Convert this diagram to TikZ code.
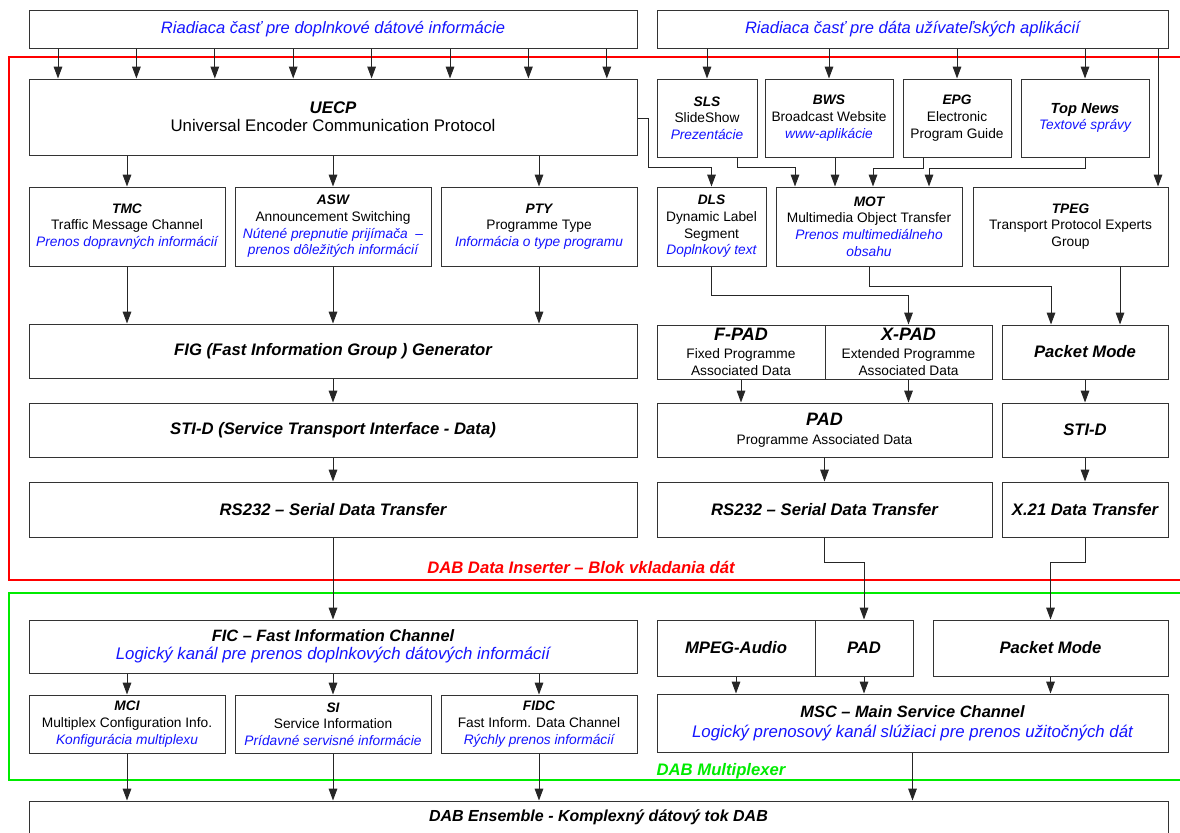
\documentclass[tikz,border=0pt]{standalone}
\usepackage{fontspec}
\setmainfont{Liberation Sans}
\usetikzlibrary{arrows.meta}

\definecolor{txtblue}{RGB}{20,20,255}
\definecolor{frred}{RGB}{255,0,0}
\definecolor{frgreen}{RGB}{0,235,0}

\newcommand\hd[1]{{\bfseries\itshape #1}}
\newcommand\bl[1]{{\itshape\color{txtblue}#1}}
% box from corner (x1,y1) to corner (x2,y2), in pixel units
\newcommand\mkbox[7][]{\node[blk,#1,minimum width={(#5-#3)*0.75pt},
  minimum height={(#6-#4)*0.75pt}] (#2) at ({(#3+#5)/2},{(#4+#6)/2}) {#7};}

\tikzset{
  blk/.style={draw=black!80, line width=0.75pt, fill=white, inner sep=0pt,
              align=center, font=\fontsize{10.3}{12.5}\selectfont},
  bigbold/.style={font=\fontsize{12.5}{14}\selectfont\bfseries\itshape},
  arr/.style={draw=black!85, line width=0.75pt, -{Triangle[length=9pt,width=6.5pt]}},
  frame/.style={line width=1pt},
}

\begin{document}
\begin{tikzpicture}[x=0.75pt,y=-0.75pt]
\useasboundingbox (0,0) rectangle (1180,832);

% frames of the two blocks
\draw[frred, frame]   (1195,57)  -- (9,57)  -- (9,580) -- (1195,580);
\draw[frgreen, frame] (1195,593) -- (9,593) -- (9,780) -- (1195,780);
\node[text=frred, bigbold]   (lblred)   at (581,567) {DAB Data Inserter – Blok vkladania dát};
\node[text=frgreen, bigbold] (lblgreen) at (721,771) {DAB Multiplexer};

% control parts
\mkbox[font=\fontsize{12.4}{14}\selectfont]{tl}{29}{10}{637}{48}{\bl{Riadiaca časť pre doplnkové dátové informácie}}
\mkbox[font=\fontsize{12.4}{14}\selectfont]{tr}{657}{10}{1168}{48}{\bl{Riadiaca časť pre dáta užívateľských aplikácií}}

% left branch
\mkbox[font=\fontsize{12.6}{13.5}\selectfont]{uecp}{29}{79}{637}{155}{\hd{UECP}\\Universal Encoder Communication Protocol}
\mkbox{tmc}{29}{187}{225}{266}{\hd{TMC}\\Traffic Message Channel\\\bl{Prenos dopravných informácií}}
\mkbox{asw}{235}{187}{431}{266}{\hd{ASW}\\Announcement Switching\\\bl{Nútené prepnutie prijímača~ –}\\\bl{prenos dôležitých informácií}}
\mkbox{pty}{441}{187}{637}{266}{\hd{PTY}\\Programme Type\\\bl{Informácia o type programu}}
\mkbox[bigbold]{fig}{29}{324}{637}{378}{FIG (Fast Information Group ) Generator}
\mkbox[bigbold]{stid}{29}{403}{637}{457}{STI-D (Service Transport Interface - Data)}
\mkbox[bigbold]{rsa}{29}{482}{637}{537}{RS232 – Serial Data Transfer}

% right branch
\mkbox{sls}{657}{79}{757}{157}{\hd{SLS}\\SlideShow\\\bl{Prezentácie}}
\mkbox{bws}{765}{79}{893}{157}{\hd{BWS}\\Broadcast Website\\\bl{www-aplikácie}}
\mkbox{epg}{903}{79}{1011}{157}{\hd{EPG}\\Electronic\\Program Guide}
\mkbox{topn}{1021}{79}{1149}{157}{{\fontsize{11}{12.5}\selectfont\hd{Top News}}\\\bl{Textové správy}}
\mkbox{dls}{657}{187}{766}{266}{\hd{DLS}\\Dynamic Label\\Segment\\\bl{Doplnkový text}}
\mkbox{mot}{776}{187}{962}{266}{\hd{MOT}\\Multimedia Object Transfer\\\bl{Prenos multimediálneho}\\\bl{obsahu}}
\mkbox{tpeg}{973}{187}{1168}{266}{\hd{TPEG}\\Transport Protocol Experts\\Group}
\mkbox[font=\fontsize{10.3}{13}\selectfont]{fpad}{657}{325}{825}{379}{{\fontsize{13.5}{15}\selectfont\hd{F-PAD}}\\Fixed Programme\\Associated Data}
\mkbox[font=\fontsize{10.3}{13}\selectfont]{xpad}{825}{325}{992}{379}{{\fontsize{13.5}{15}\selectfont\hd{X-PAD}}\\Extended Programme\\Associated Data}
\mkbox[bigbold]{pma}{1002}{325}{1168}{379}{Packet Mode}
\mkbox[font=\fontsize{10.3}{14}\selectfont]{pad}{657}{403}{992}{457}{{\fontsize{13.5}{15}\selectfont\hd{PAD}}\\Programme Associated Data}
\mkbox[bigbold]{stidb}{1002}{403}{1168}{457}{STI-D}
\mkbox[bigbold]{rsb}{657}{482}{992}{537}{RS232 – Serial Data Transfer}
\mkbox[bigbold]{xtf}{1002}{482}{1168}{537}{X.21 Data Transfer}

% multiplexer
\mkbox[font=\fontsize{12.6}{13.5}\selectfont]{fic}{29}{620}{637}{673}{{\fontsize{12.3}{14}\selectfont\hd{FIC – Fast Information Channel}}\\\bl{Logický kanál pre prenos doplnkových dátových informácií}}
\mkbox{mci}{29}{695}{225}{753}{\hd{MCI}\\Multiplex Configuration Info.\\\bl{Konfigurácia multiplexu}}
\mkbox{si}{235}{695}{431}{753}{\hd{SI}\\Service Information\\\bl{Prídavné servisné informácie}}
\mkbox{fidc}{441}{695}{637}{753}{\hd{FIDC}\\Fast Inform. Data Channel\\\bl{Rýchly prenos informácií}}
\mkbox[bigbold]{mpeg}{657}{620}{815}{676}{MPEG-Audio}
\mkbox[bigbold]{padb}{815}{620}{913}{676}{PAD}
\mkbox[bigbold]{pmb}{933}{620}{1168}{676}{Packet Mode}
\mkbox[font=\fontsize{12.6}{15}\selectfont]{msc}{657}{694}{1168}{752}{{\fontsize{12.3}{14}\selectfont\hd{MSC – Main Service Channel}}\\\bl{Logický prenosový kanál slúžiaci pre prenos užitočných dát}}
\mkbox[font=\fontsize{12}{14}\selectfont\bfseries\itshape]{ens}{29}{801}{1168}{834}{DAB Ensemble - Komplexný dátový tok DAB}

% control part -> UECP
\foreach \xx in {58,136.4,214.8,293.2,371.6,450,528.4,606.8}
  \draw[arr] (tl.south -| \xx,0) -- (uecp.north -| \xx,0);

% left branch flow
\foreach \nn in {tmc,asw,pty} {
  \draw[arr] (uecp.south -| \nn.north) -- (\nn.north);
  \draw[arr] (\nn.south) -- (fig.north -| \nn.south);
}
\draw[arr] (fig.south) -- (stid.north);
\draw[arr] (stid.south) -- (rsa.north);
\draw[arr] (rsa.south) -- (fic.north);

% right branch flow
\foreach \nn in {sls,bws,epg,topn}
  \draw[arr] (tr.south -| \nn.north) -- (\nn.north);
\draw[arr] (tr.south -| 1158,0) -- (tpeg.north -| 1158,0);
\draw[arr] (uecp.east |- 0,118) -| (648,167) -| (dls.north);
\draw[arr] (sls.south -| 737,0) |- (795,167) -- (mot.north -| 795,0);
\draw[arr] (bws.south -| 835,0) -- (mot.north -| 835,0);
\draw[arr] (epg.south -| 923,0) |- (873,168) -- (mot.north -| 873,0);
\draw[arr] (topn.south) |- (929,168) -- (mot.north -| 929,0);
\draw[arr] (dls.south) |- (xpad.north |- 0,295) -- (xpad.north);
\draw[arr] (mot.south) |- (1051,286) -- (pma.north -| 1051,0);
\draw[arr] (tpeg.south -| 1120,0) -- (pma.north -| 1120,0);
\draw[arr] (fpad.south) -- (pad.north -| fpad.south);
\draw[arr] (xpad.south) -- (pad.north -| xpad.south);
\draw[arr] (pma.south) -- (stidb.north);
\draw[arr] (pad.south) -- (rsb.north);
\draw[arr] (stidb.south) -- (xtf.north);
\draw[arr] (rsb.south) |- (padb.north |- 0,562) -- (padb.north);
\draw[arr] (xtf.south) |- (pmb.north |- 0,562) -- (pmb.north);

% multiplexer flow
\foreach \nn in {mci,si,fidc} {
  \draw[arr] (fic.south -| \nn.north) -- (\nn.north);
  \draw[arr] (\nn.south) -- (ens.north -| \nn.south);
}
\foreach \nn in {mpeg,padb,pmb}
  \draw[arr] (\nn.south) -- (msc.north -| \nn.south);
\draw[arr] (msc.south) -- (ens.north -| msc.south);
\end{tikzpicture}
\end{document}
